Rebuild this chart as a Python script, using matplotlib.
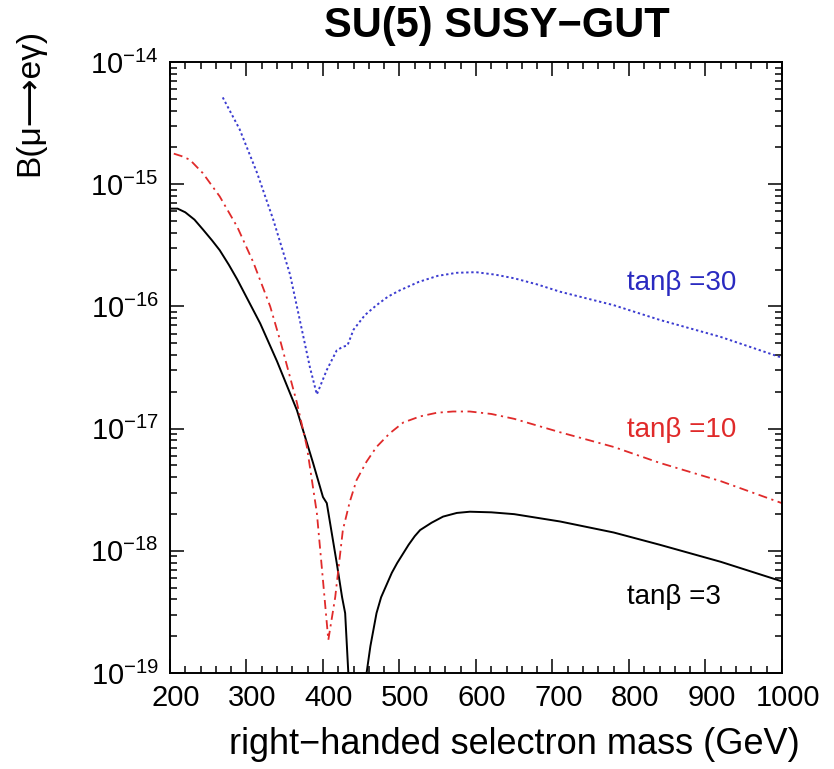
import matplotlib
matplotlib.use('Agg')
import numpy as np
import matplotlib.pyplot as plt
import matplotlib.transforms as mtransforms
from matplotlib.ticker import FixedLocator, MultipleLocator, LogLocator, NullFormatter

plt.rcParams['font.family'] = ['Liberation Sans', 'DejaVu Sans']
plt.rcParams['mathtext.fontset'] = 'custom'
plt.rcParams['mathtext.rm'] = 'Liberation Sans'
plt.rcParams['mathtext.it'] = 'Liberation Sans:italic'
plt.rcParams['mathtext.bf'] = 'Liberation Sans:bold'

# tan(beta) = 3, solid black  (log10 of the branching ratio)
m_tb3 = [200, 210, 220, 232, 243, 255, 265, 277, 288, 303, 318, 340, 366, 387, 400, 405,
         418, 425, 429, 434, 445, 457, 462, 470, 476, 483, 490, 497, 505, 512, 520, 527,
         542, 557, 575, 592, 620, 650, 710, 780, 840, 920, 1000]
logB_tb3 = [-15.20, -15.20, -15.23, -15.29, -15.37, -15.46, -15.54, -15.66, -15.78, -15.96,
            -16.14, -16.45, -16.85, -17.28, -17.56, -17.61, -18.10, -18.38, -18.51, -19.1,
            -20.0, -19.0, -18.78, -18.51, -18.38, -18.28, -18.18, -18.10, -18.02, -17.95,
            -17.88, -17.83, -17.77, -17.72, -17.69, -17.68, -17.685, -17.70, -17.76, -17.85,
            -17.95, -18.09, -18.25]

# tan(beta) = 10, red dash-dot
m_tb10 = [205, 215, 226, 243, 265, 288, 309, 331, 345, 366, 379, 392, 400, 407, 416, 426,
          435, 444, 457, 470, 487, 505, 527, 549, 570, 592, 620, 650, 710, 780, 840, 920, 1000]
logB_tb10 = [-14.75, -14.77, -14.80, -14.91, -15.10, -15.35, -15.64, -16.00, -16.30, -16.79,
             -17.15, -17.69, -18.24, -18.73, -18.38, -17.83, -17.60, -17.42, -17.27, -17.15,
             -17.04, -16.95, -16.90, -16.87, -16.86, -16.86, -16.88, -16.92, -17.03, -17.15,
             -17.28, -17.43, -17.61]

# tan(beta) = 30, blue dotted
m_tb30 = [269, 291, 314, 335, 357, 370, 383, 392, 405, 418, 426, 432, 440, 455, 470, 485,
          500, 525, 550, 575, 600, 625, 650, 680, 710, 780, 840, 920, 1000]
logB_tb30 = [-14.29, -14.55, -14.91, -15.29, -15.74, -16.12, -16.50, -16.72, -16.52, -16.36,
             -16.33, -16.32, -16.19, -16.07, -15.99, -15.92, -15.87, -15.80, -15.75, -15.725,
             -15.72, -15.74, -15.77, -15.82, -15.88, -15.99, -16.11, -16.25, -16.42]

decades = [-19, -18, -17, -16, -15, -14]
xticks = [200, 300, 400, 500, 600, 700, 800, 900, 1000]

fig = plt.figure(figsize=(8.34, 7.69), dpi=100)
ax = fig.add_axes([0.2038, 0.1248, 0.7338, 0.7946])

ax.plot(m_tb3, np.power(10.0, logB_tb3), color='black', lw=1.4)
ax.plot(m_tb10, np.power(10.0, logB_tb10), color='#e02a2a', lw=1.3, dashes=(5, 2.5, 1.2, 2.5))
ax.plot(m_tb30, np.power(10.0, logB_tb30), color='#3b3bd0', lw=1.4, dashes=(1.2, 1.4))

ax.set_yscale('log')
ax.set_xlim(200, 1000)
ax.set_ylim(1e-19, 1e-14)

ax.xaxis.set_major_locator(FixedLocator(xticks))
ax.xaxis.set_minor_locator(MultipleLocator(20))
ax.set_xticklabels([str(t) for t in xticks])
ax.yaxis.set_major_locator(FixedLocator([10.0 ** d for d in decades]))
ax.yaxis.set_minor_locator(LogLocator(base=10, subs=np.arange(2, 10)))
ax.yaxis.set_minor_formatter(NullFormatter())
ax.set_yticklabels([r'$\mathregular{10^{%d}}$' % d for d in decades])

ax.tick_params(which='both', direction='in', top=True, right=True, width=1.1)
ax.tick_params(which='major', length=10, labelsize=21, pad=8)
ax.tick_params(which='minor', length=5)
for s in ax.spines.values():
    s.set_linewidth(1.4)

off = mtransforms.ScaledTranslation(6 / 100, 0, fig.dpi_scale_trans)
for lab in ax.get_xticklabels():
    lab.set_transform(lab.get_transform() + off)

W, H = 834, 769
fig.text(497 / W, 1 - 26 / H, 'SU(5) SUSY\u2212GUT', ha='center', va='center',
         fontsize=30, fontweight='bold')
fig.text(514 / W, 1 - 745 / H, 'right\u2212handed selectron mass (GeV)', ha='center',
         va='center', fontsize=26)
fig.text(30 / W, 1 - 102 / H, 'B(\u03bc\u27f6e\u03b3)', ha='center', va='center',
         rotation=90, fontsize=24)

fig.text(627 / W, 1 - 283 / H, 'tan\u03b2 =30', ha='left', va='center', fontsize=20,
         color='#2a2ac0')
fig.text(627 / W, 1 - 430 / H, 'tan\u03b2 =10', ha='left', va='center', fontsize=20,
         color='#e02a2a')
fig.text(627 / W, 1 - 597 / H, 'tan\u03b2 =3', ha='left', va='center', fontsize=20,
         color='black')

plt.savefig('out.png', dpi=100)
